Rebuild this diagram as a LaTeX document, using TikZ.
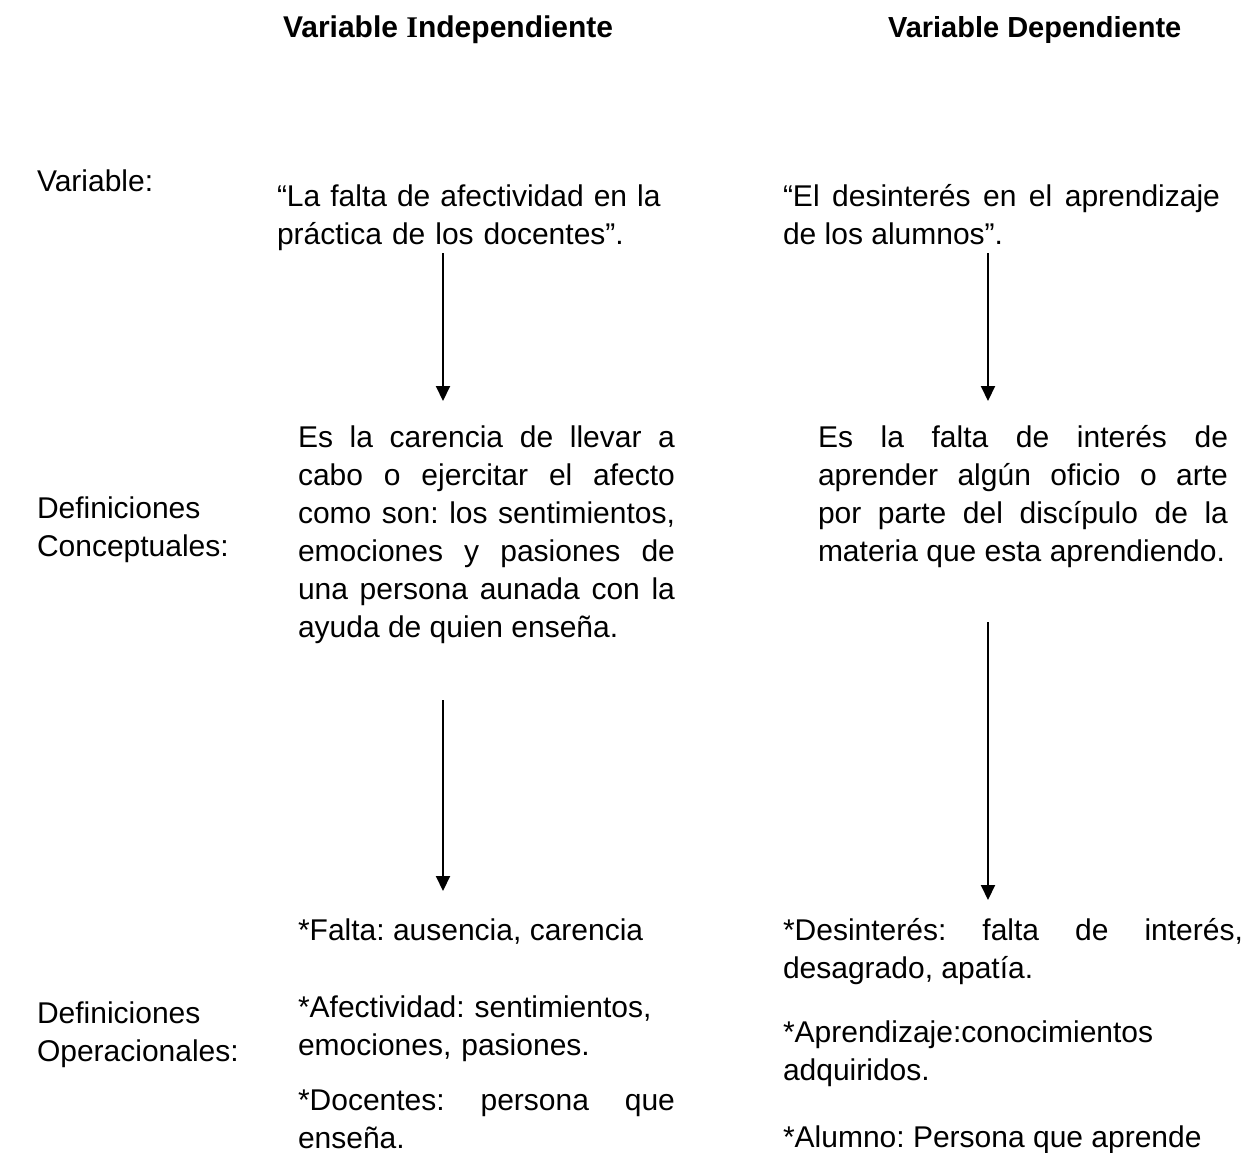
\documentclass[tikz,border=0pt]{standalone}
\usepackage{fontspec}
\setmainfont{Liberation Sans}
\newfontfamily\serifbold{Liberation Serif}
\usetikzlibrary{arrows.meta}
\hbadness=10000
\frenchspacing
\begin{document}
\begin{tikzpicture}[x=1pt,y=-1pt,
  txt/.style={inner sep=0pt, outer sep=0pt, font=\fontsize{30}{38}\selectfont\frenchspacing},
  lbl/.style={txt, anchor=base west},
  lines/.style={txt, anchor=base west, text width=480pt, align=left},
  para/.style={txt, anchor=base west, text width=#1, align=justify},
  head/.style={txt, anchor=base west, font=\fontsize{30}{38}\selectfont\bfseries},
  arr/.style={-{Triangle[width=14pt,length=15pt]}, line width=2pt}]
\useasboundingbox (0,0) rectangle (1259,1152);

% headings
\node[head] (h1) at (283,37) {Variable {\serifbold\bfseries I}ndependiente};
\node[head, font=\fontsize{29}{38}\selectfont\bfseries] (h2) at (888,37) {Variable Dependiente};

% row labels
\node[lbl] (l1) at (37,191) {Variable:};
\node[lines] (l2) at (37,518) {Definiciones\\Conceptuales:};
\node[lines] (l3) at (37,1023) {Definiciones\\Operacionales:};

% variables
\node[lines] (v1) at (277,206) {“La falta de afectividad en la\\práctica de los docentes”.};
\node[para=437pt] (v2) at (783,206) {“El desinterés en el aprendizaje\linebreak de los alumnos”.};

% conceptual definitions
\node[para=377pt] (c1) at (298,447) {Es la carencia de llevar a\linebreak cabo o ejercitar el afecto\linebreak como son: los sentimientos,\linebreak emociones y pasiones de\linebreak una persona aunada con la\linebreak ayuda de quien enseña.};
\node[para=410pt] (c2) at (818,447) {Es la falta de interés de\linebreak aprender algún oficio o arte\linebreak por parte del discípulo de la\linebreak materia que esta aprendiendo.};

% operational definitions (left)
\node[lbl] (o1) at (298,940) {*Falta: ausencia, carencia};
\node[lines] (o2) at (298,1017) {*Afectividad: sentimientos,\\emociones, pasiones.};
\node[para=377pt] (o3) at (298,1110) {*Docentes: persona que\linebreak enseña.};

% operational definitions (right)
\node[para=460pt] (p1) at (783,940) {*Desinterés: falta de interés,\linebreak desagrado, apatía.};
\node[lines] (p2) at (783,1042) {*Aprendizaje:conocimientos\\adquiridos.};
\node[lbl] (p3) at (783,1147) {*Alumno: Persona que aprende};

% arrows
\coordinate (a1s) at (443,253); \coordinate (a1e) at (443,401);
\coordinate (a2s) at (988,253); \coordinate (a2e) at (988,401);
\coordinate (a3s) at (443,700); \coordinate (a3e) at (443,891);
\coordinate (a4s) at (988,622); \coordinate (a4e) at (988,900);
\draw[arr] (a1s) -- (a1e);
\draw[arr] (a2s) -- (a2e);
\draw[arr] (a3s) -- (a3e);
\draw[arr] (a4s) -- (a4e);
\end{tikzpicture}
\end{document}
